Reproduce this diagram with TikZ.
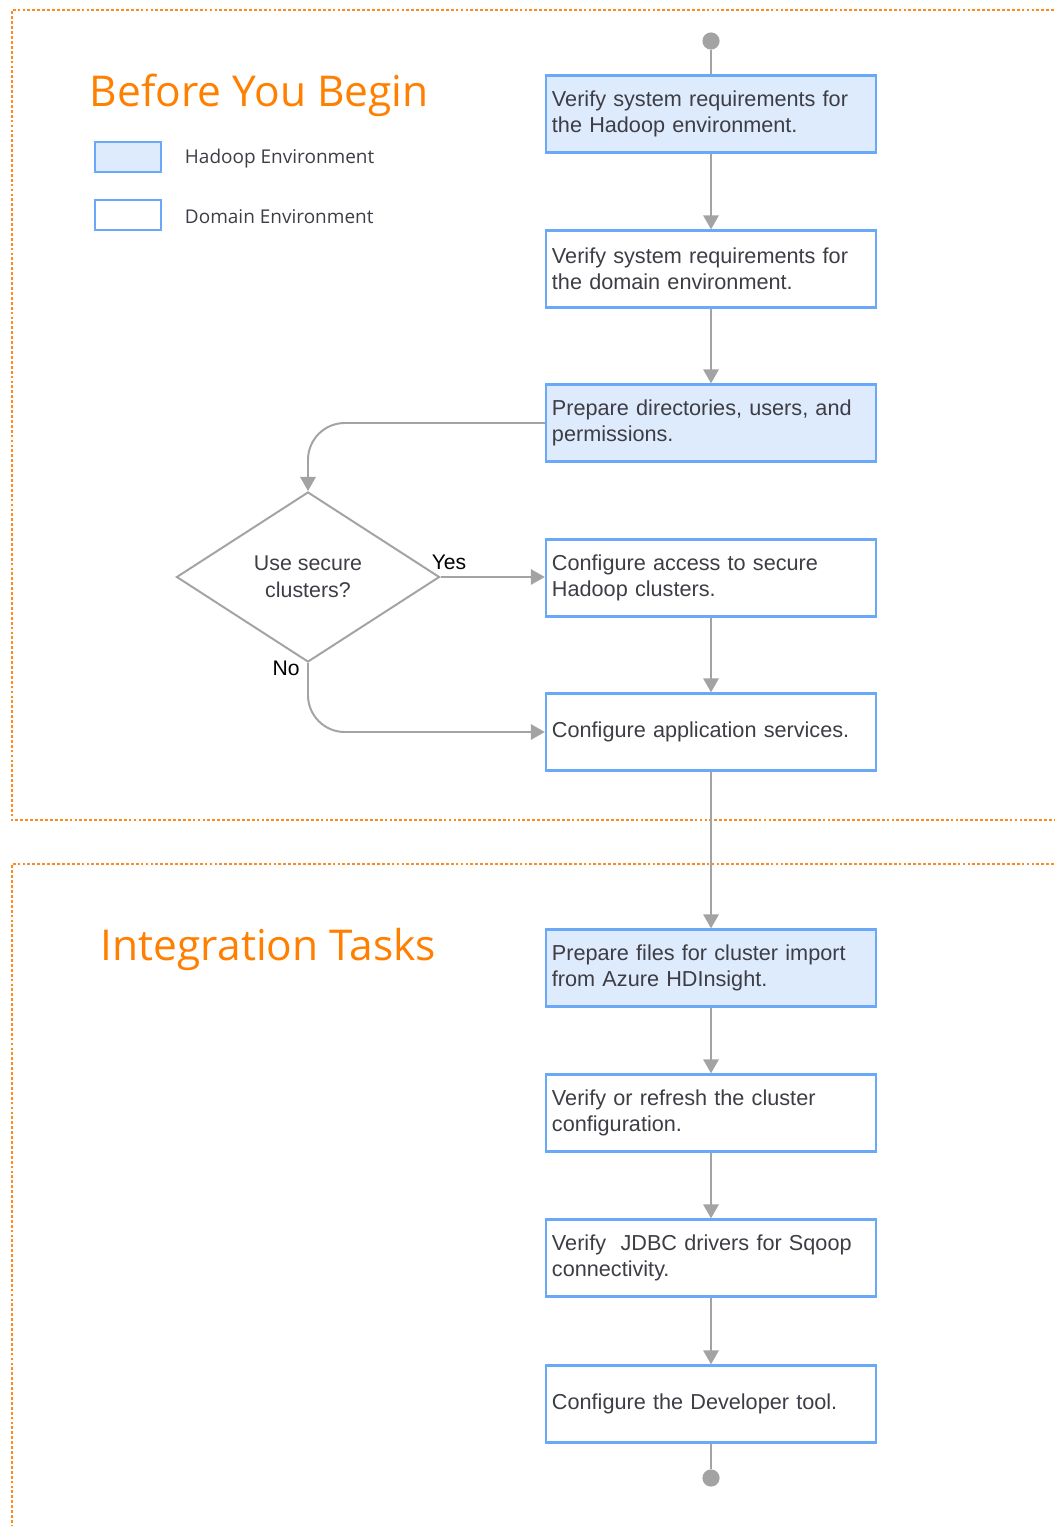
\documentclass[tikz,border=0pt]{standalone}
\usepackage{fontspec}
\setmainfont{Liberation Sans}
\newfontfamily\titlefont{Open Sans}
\usepackage{tikz}
\usetikzlibrary{arrows.meta,shapes.geometric,positioning}
\definecolor{hadoopfill}{HTML}{DEEBFC}
\definecolor{boxblue}{HTML}{6AA9F7}
\definecolor{flowgray}{HTML}{A3A3A3}
\definecolor{frameorange}{HTML}{FF8A1F}
\definecolor{titleorange}{HTML}{FF7F00}
\definecolor{textgray}{HTML}{3D3D45}
\tikzset{>={Triangle[length=10pt,width=11pt]}}

\begin{document}
\begin{tikzpicture}[x=0.025cm,y=-0.025cm,
  task/.style={draw=boxblue,line width=1.6pt,minimum width=8.25cm,minimum height=1.925cm,
    text width=7.95cm,align=left,inner sep=0pt,text=textgray,font=\fontsize{15.4}{18.6}\selectfont},
  hadoop/.style={task,fill=hadoopfill},
  decision/.style={diamond,draw=flowgray,line width=1.4pt,minimum width=6.575cm,minimum height=4.25cm,
    inner sep=0pt,align=center,text=textgray,font=\fontsize{15.2}{19}\selectfont},
  flow/.style={draw=flowgray,line width=1.4pt,->},
  dot/.style={circle,fill=flowgray,minimum size=0.43cm,inner sep=0pt},
  frame/.style={draw=frameorange,line width=1.6pt,dash pattern=on 2pt off 1.5pt},
  legendbox/.style={draw=boxblue,line width=1.6pt,minimum width=1.65cm,minimum height=0.75cm,inner sep=0pt},
  legendtext/.style={anchor=west,text=textgray,font=\titlefont\fontsize{13.5}{16}\selectfont},
  heading/.style={anchor=west,text=titleorange,font=\titlefont\fontsize{30.2}{36}\selectfont},
  answer/.style={font=\fontsize{15}{17}\selectfont}]

\useasboundingbox (0,0) rectangle (1054,1526);

% dotted section frames
\draw[frame] (1054,10) -- (12,10) -- (12,820) -- (1054,820);
\draw[frame] (1054,864) -- (12,864) -- (12,1526);

\node[heading] (before) at (85,95) {Before You Begin};
\node[heading] (integration) at (96,949) {Integration Tasks};

% legend
\node[legendbox,fill=hadoopfill] (leghadoop) at (128,157) {};
\node[legendbox] (legdomain) at (128,215) {};
\node[legendtext] at (180,159) {Hadoop Environment};
\node[legendtext] at (180,217) {Domain Environment};

% tasks
\node[dot] (start) at (711,41) {};
\node[hadoop] (sysreq) at (711,114) {Verify system requirements for\\the Hadoop environment.};
\node[task] (domreq) at (711,269) {Verify system requirements for\\the domain environment.};
\node[hadoop] (prepdirs) at (711,423) {Prepare directories, users, and\\permissions.};
\node[decision] (secure) at (308,577) {Use secure\\clusters?};
\node[task] (secaccess) at (711,578) {Configure access to secure\\Hadoop clusters.};
\node[task] (appsvc) at (711,732) {Configure application services.};
\node[hadoop] (prepfiles) at (711,968) {Prepare files for cluster import\\from Azure HDInsight.};
\node[task] (refresh) at (711,1113) {Verify or refresh the cluster\\configuration.};
\node[task] (jdbc) at (711,1258) {Verify\ \ JDBC drivers for Sqoop\\connectivity.};
\node[task] (devtool) at (711,1404) {Configure the Developer tool.};
\node[dot] (finish) at (711,1478) {};

% connectors
\draw[draw=flowgray,line width=1.4pt] (start) -- (sysreq);
\draw[flow] (sysreq) -- (domreq);
\draw[flow] (domreq) -- (prepdirs);
\draw[flow,rounded corners=0.92cm] (prepdirs.west) -| (secure.north);
\draw[flow] (secure.east) -- (secure.east -| secaccess.west);
\draw[flow,rounded corners=0.92cm] (secure.south) |- (appsvc.west);
\draw[flow] (secaccess) -- (appsvc);
\draw[flow] (appsvc) -- (prepfiles);
\draw[flow] (prepfiles) -- (refresh);
\draw[flow] (refresh) -- (jdbc);
\draw[flow] (jdbc) -- (devtool);
\draw[draw=flowgray,line width=1.4pt] (devtool) -- (finish);

\node[answer] at (449,562) {Yes};
\node[answer] at (286,668) {No};
\end{tikzpicture}
\end{document}
